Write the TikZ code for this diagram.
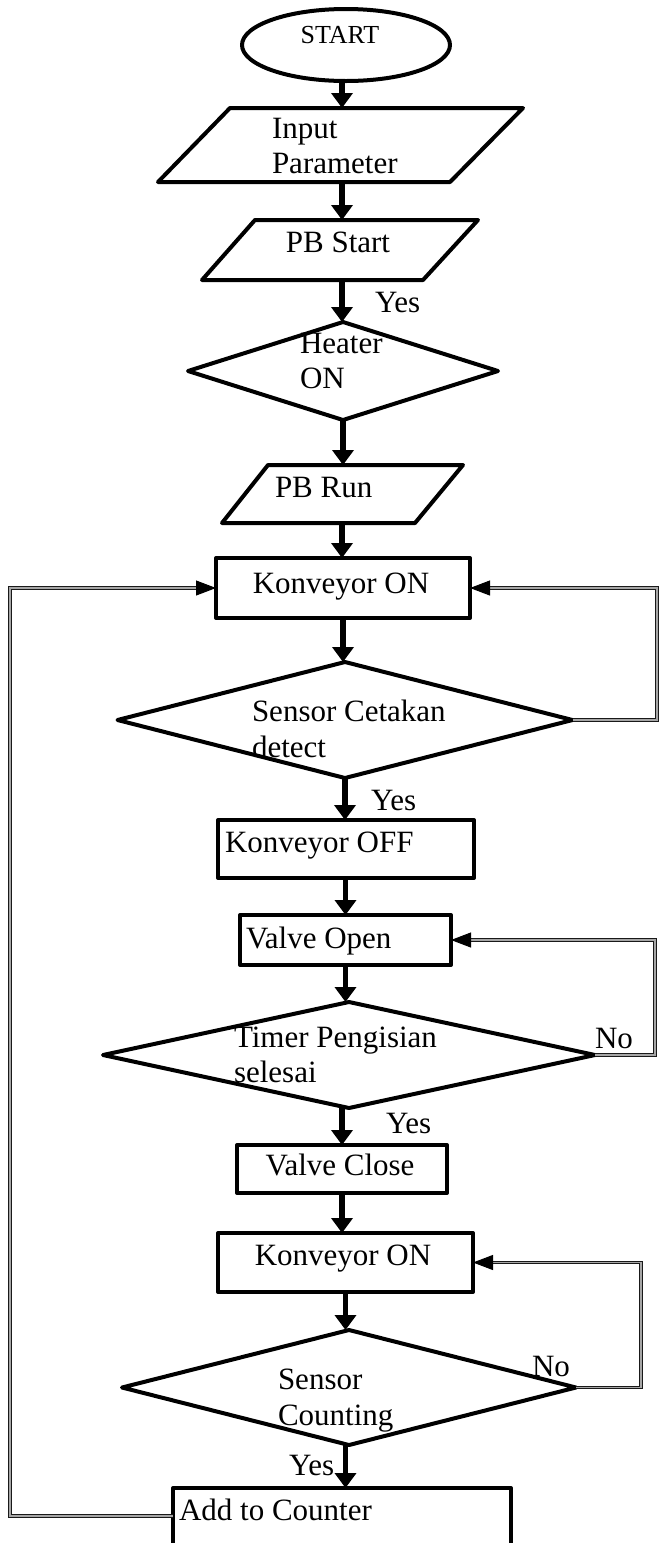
\documentclass[tikz,border=0pt]{standalone}
\usepackage{fontspec}
\setmainfont{Liberation Serif}
\usetikzlibrary{shapes.geometric,arrows.meta}
\begin{document}
\begin{tikzpicture}[x=1pt,y=-1pt,
  txt/.style={font=\fontsize{31}{36}\selectfont, inner sep=0pt, outer sep=0pt, anchor=base west},
  ctxt/.style={txt, anchor=base},
  shp/.style={draw, line width=4pt, line join=round, inner sep=0pt, outer sep=0pt},
  flowarrow/.style={line width=5.5pt, -{Triangle[width=21pt,length=15pt]}},
  backline/.style={draw=black!90, line width=1.3pt, double=gray!70, double distance=1.1pt},
  backtip/.style={line width=1pt, -{Triangle[width=15pt,length=20pt]}}]
\clip (0,0) rectangle (659,1543);

% START
\node[shp, ellipse, minimum width=208pt, minimum height=72pt] (start) at (346,45) {};
\node[ctxt, font=\fontsize{26}{30}\selectfont] (startT) at (340,43) {START};

% Input Parameter
\coordinate (inpA) at (230,108); \coordinate (inpB) at (523,108);
\coordinate (inpC) at (450,182); \coordinate (inpD) at (158,182);
\draw[shp] (inpA) -- (inpB) -- (inpC) -- (inpD) -- cycle;
\coordinate (inpN) at (342,108); \coordinate (inpS) at (342,182);
\node[txt] (inpT1) at (272,138) {Input};
\node[txt] (inpT2) at (272,173) {Parameter};
\draw[flowarrow] (inpN |- start.south) -- (inpN);

% PB Start
\coordinate (pbsA) at (255,220); \coordinate (pbsB) at (478,220);
\coordinate (pbsC) at (423,280); \coordinate (pbsD) at (202,280);
\draw[shp] (pbsA) -- (pbsB) -- (pbsC) -- (pbsD) -- cycle;
\coordinate (pbsN) at (342,220); \coordinate (pbsS) at (342,280);
\node[ctxt] (pbsT) at (338,252) {PB Start};
\draw[flowarrow] (inpS) -- (pbsN);

% Heater ON
\node[shp, diamond, minimum width=310pt, minimum height=98pt] (heat) at (343,371) {};
\node[txt] (heatT1) at (300,353) {Heater};
\node[txt] (heatT2) at (300,388) {ON};
\draw[flowarrow] (pbsS) -- (pbsS |- heat.north);
\node[txt] (yes1) at (375,312) {Yes};

% PB Run
\coordinate (runA) at (268,465); \coordinate (runB) at (463,465);
\coordinate (runC) at (415,523); \coordinate (runD) at (222,523);
\draw[shp] (runA) -- (runB) -- (runC) -- (runD) -- cycle;
\coordinate (runN) at (342,465); \coordinate (runS) at (342,523);
\node[txt] (runT) at (275,497) {PB Run};
\draw[flowarrow] (heat.south) -- (heat.south |- runN);

% Konveyor ON 1
\node[shp, minimum width=254pt, minimum height=60pt] (kon1) at (343,588) {};
\node[ctxt] (kon1T) at (341,593) {Konveyor ON};
\draw[flowarrow] (runS) -- (runS |- kon1.north);

% Sensor Cetakan
\node[shp, diamond, minimum width=455pt, minimum height=116pt] (dia1) at (345,720) {};
\node[txt] (dia1T1) at (252,721) {Sensor Cetakan};
\node[txt] (dia1T2) at (252,757) {detect};
\draw[flowarrow] (kon1.south) -- (kon1.south |- dia1.north);

% Konveyor OFF
\node[shp, minimum width=256pt, minimum height=58pt] (koff) at (346,849) {};
\node[txt] (koffT) at (225,852) {Konveyor OFF};
\draw[flowarrow] (dia1.south) -- (dia1.south |- koff.north);
\node[txt] (yes2) at (371,810) {Yes};

% Valve Open
\node[shp, minimum width=211pt, minimum height=50pt] (vopen) at (345.5,940) {};
\node[txt] (vopenT) at (246,948) {Valve Open};
\draw[flowarrow] (vopen.north |- koff.south) -- (vopen.north);

% Timer Pengisian
\node[shp, diamond, minimum width=492pt, minimum height=106pt] (dia2) at (349,1055) {};
\node[txt] (dia2T1) at (234,1047) {Timer Pengisian};
\node[txt] (dia2T2) at (234,1082) {selesai};
\draw[flowarrow] (vopen.south) -- (vopen.south |- dia2.north);
\node[txt] (no1) at (595,1048) {No};

% Valve Close
\node[shp, minimum width=210pt, minimum height=48pt] (vclose) at (342,1169) {};
\node[ctxt] (vcloseT) at (340,1175) {Valve Close};
\draw[flowarrow] (vclose.north |- dia2.south) -- (vclose.north);
\node[txt] (yes3) at (386,1133) {Yes};

% Konveyor ON 2
\node[shp, minimum width=255pt, minimum height=59pt] (kon2) at (345.5,1262.5) {};
\node[ctxt] (kon2T) at (343,1265) {Konveyor ON};
\draw[flowarrow] (vclose.south) -- (vclose.south |- kon2.north);

% Sensor Counting
\node[shp, diamond, minimum width=454pt, minimum height=115pt] (dia3) at (349,1387.5) {};
\node[txt] (dia3T1) at (278,1389) {Sensor};
\node[txt] (dia3T2) at (278,1425) {Counting};
\draw[flowarrow] (kon2.south) -- (kon2.south |- dia3.north);
\node[txt] (no2) at (532,1376) {No};

% Add to Counter
\node[shp, minimum width=338pt, minimum height=80pt] (add) at (342,1528) {};
\node[txt] (addT) at (179,1520) {Add to Counter};
\draw[flowarrow] (kon2.south |- dia3.south) -- (kon2.south |- add.north);
\node[txt] (yes4) at (289,1475) {Yes};

% loops
\coordinate (r1) at (657,588);
\draw[backline] (dia1.east) -| (r1) -- ([xshift=18pt]kon1.east);
\draw[backtip] ([xshift=19pt]kon1.east) -- (kon1.east);

\coordinate (r2) at (655,940);
\draw[backline] (dia2.east) -| (r2) -- ([xshift=18pt]vopen.east);
\draw[backtip] ([xshift=19pt]vopen.east) -- (vopen.east);

\coordinate (r3) at (641,1262.5);
\draw[backline] (dia3.east) -| (r3) -- ([xshift=18pt]kon2.east);
\draw[backtip] ([xshift=19pt]kon2.east) -- (kon2.east);

\coordinate (l1) at (10,1516);
\coordinate (l2) at (10,588);
\draw[backline] (l1 -| add.west) -- (l1) -- (l2) -- ([xshift=-18pt]kon1.west);
\draw[backtip] ([xshift=-19pt]kon1.west) -- (kon1.west);
\end{tikzpicture}
\end{document}
